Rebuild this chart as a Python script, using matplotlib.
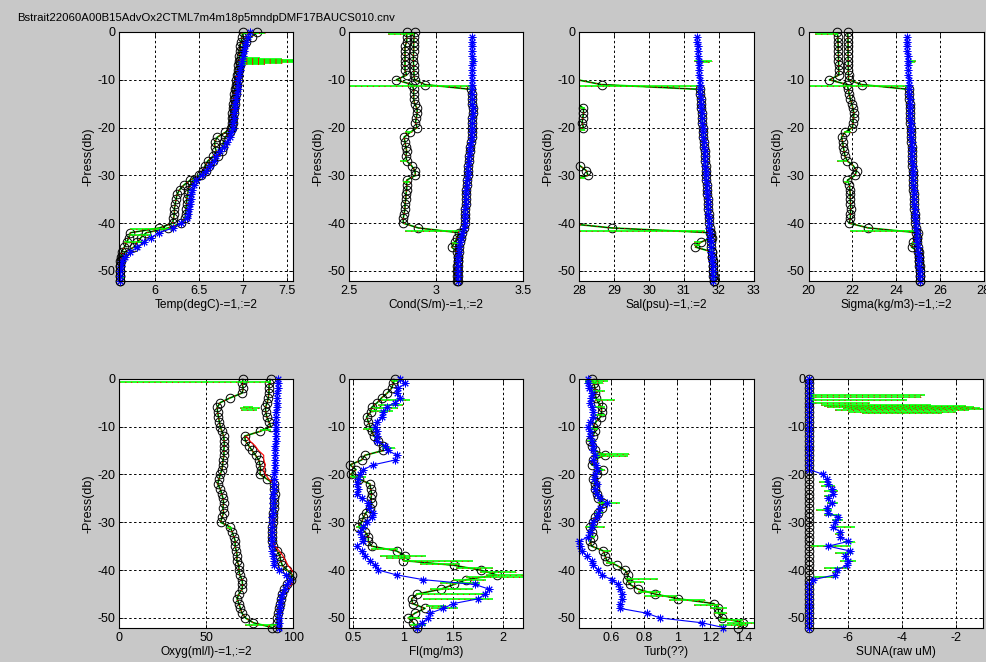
import numpy as np
import matplotlib
matplotlib.use("Agg")
import matplotlib.pyplot as plt

plt.rcParams['font.family'] = ['Liberation Sans', 'DejaVu Sans']
plt.rcParams['axes.unicode_minus'] = False

NAN = float('nan')

TITLE = "Bstrait22060A00B15AdvOx2CTML7m4m18p5mndpDMF17BAUCS010.cnv"
YLABEL = "-Press(db)"

# bin pressures (db)
PRESS = [0, 1, 2, 3, 4, 5, 6, 7, 8, 9,
         10, 11, 12, 13, 14, 15, 16, 17, 18, 19,
         20, 21, 22, 23, 24, 25, 26, 27, 28, 29,
         30, 31, 32, 33, 34, 35, 36, 37, 38, 39,
         40, 41, 42, 43, 44, 45, 46, 47, 48, 49,
         50, 51, 52]

# ---------------- temperature ----------------
TEMP_A = [7.00, 6.99, 6.98, 6.97, 6.97, 6.96, 6.96, 6.95, 6.94, 6.93,
          6.92, 6.92, 6.91, 6.90, 6.90, 6.89, 6.89, 6.88, 6.88, 6.88,
          6.87, 6.80, 6.71, 6.68, 6.68, 6.70, 6.66, 6.60, 6.57, 6.55,
          6.50, 6.40, 6.33, 6.28, 6.25, 6.24, 6.23, 6.22, 6.22, 6.21,
          6.20, 6.05, 5.72, 5.70, 5.68, 5.65, 5.62, 5.61, 5.60, 5.60,
          5.60, 5.60, 5.60]
TEMP_B = [7.16, 7.10, 7.04, 7.00, 6.99, 6.98, 6.97, 6.97, 6.96, 6.95,
          6.94, 6.93, 6.92, 6.92, 6.91, 6.91, 6.90, 6.90, 6.89, 6.89,
          6.88, 6.85, 6.80, 6.78, 6.77, 6.76, 6.72, 6.66, 6.62, 6.58,
          6.52, 6.44, 6.40, 6.38, 6.37, 6.36, 6.36, 6.35, 6.35, 6.34,
          6.30, 6.15, 5.90, 5.84, 5.80, 5.76, 5.66, 5.62, 5.61, 5.60,
          5.60, 5.60, 5.60]
TEMP_UP = [7.08, 7.06, 7.04, 7.02, 7.01, 7.00, 6.99, 6.98, 6.97, 6.96,
           6.95, 6.95, 6.94, 6.93, 6.92, 6.91, 6.91, 6.90, 6.90, 6.89,
           6.89, 6.87, 6.85, 6.82, 6.78, 6.74, 6.70, 6.67, 6.63, 6.58,
           6.53, 6.47, 6.44, 6.42, 6.41, 6.41, 6.40, 6.39, 6.38, 6.36,
           6.30, 6.20, 6.05, 5.95, 5.88, 5.80, 5.72, 5.66, 5.62, 5.61,
           5.60, 5.60, 5.60]
TEMP_SPK_P = [0.3, 5.5, 5.7, 5.9, 6.1, 6.3, 6.5, 6.7, 41.3, 42.5, 44.0, 51.5]
TEMP_SPK_LO = [6.98, 6.97, 6.97, 6.97, 6.97, 6.97, 6.97, 6.97, 5.72, 5.70, 5.65, 5.60]
TEMP_SPK_HI = [7.25, 7.20, 7.45, 7.58, 7.58, 7.58, 7.45, 7.25, 6.20, 5.95, 5.85, 5.65]

# ---------------- conductivity ----------------
COND_A = [2.83, 2.83, 2.83, 2.82, 2.82, 2.82, 2.82, 2.82, 2.82, 2.83,
          2.77, 2.86, 2.87, 2.87, 2.87, 2.875, 2.89, 2.89, 2.885, 2.88,
          2.89, 2.85, 2.815, 2.82, 2.825, 2.83, 2.825, 2.83, 2.858, 2.877,
          2.88, 2.83, 2.83, 2.83, 2.825, 2.825, 2.82, 2.82, 2.815, 2.81,
          2.81, 2.897, 3.13, 3.12, 3.107, 3.088, 3.12, 3.122, 3.122, 3.121,
          3.12, 3.12, 3.12]
COND_B = [2.875, 2.872, 2.87, 2.87, 2.87, 2.868, 2.868, 2.87, 2.87, 2.872,
          2.875, 2.935, 3.20, 3.205, 3.207, 3.208, 3.209, 3.209, 3.208, 3.207,
          3.206, 3.205, 3.203, 3.20, 3.196, 3.192, 3.19, 3.187, 3.185, 3.182,
          3.18, 3.177, 3.175, 3.172, 3.17, 3.17, 3.168, 3.167, 3.166, 3.165,
          3.163, 3.16, 3.15, 3.142, 3.136, 3.132, 3.129, 3.127, 3.126, 3.125,
          3.124, 3.123, 3.122]
COND_UP = [NAN, 3.205, 3.205, 3.206, 3.206, 3.205, 3.21, 3.206, 3.205, 3.205,
           3.204, 3.205, 3.205, 3.206, 3.207, 3.208, 3.209, 3.209, 3.208, 3.207,
           3.206, 3.205, 3.203, 3.20, 3.196, 3.192, 3.19, 3.187, 3.185, 3.182,
           3.18, 3.177, 3.175, 3.172, 3.17, 3.17, 3.168, 3.167, 3.166, 3.165,
           3.163, 3.158, 3.15, 3.142, 3.136, 3.132, 3.129, 3.127, 3.126, 3.125,
           3.124, 3.123, 3.122]
COND_SPK_P = [0.4, 6.0, 6.3, 11.2, 21.0, 27.0, 31.3, 41.6, 44.2]
COND_SPK_LO = [2.72, 3.20, 3.20, 2.50, 2.82, 2.79, 2.81, 2.82, 3.09]
COND_SPK_HI = [2.87, 3.23, 3.22, 3.20, 2.86, 2.83, 2.85, 3.14, 3.14]

# ---------------- salinity ----------------
SAL_A = [27.5, 27.5, 27.5, 27.45, 27.45, 27.45, 27.45, 27.45, 27.45, 27.5,
         27.0, 27.8, 27.9, 27.9, 27.9, 27.95, 28.12, 28.12, 28.10, 28.08,
         28.12, 27.8, 27.55, 27.55, 27.6, 27.65, 27.6, 27.7, 28.02, 28.2,
         28.25, 27.7, 27.7, 27.7, 27.7, 27.7, 27.7, 27.7, 27.65, 27.6,
         27.6, 28.93, 31.78, 31.8, 31.48, 31.33, 31.8, 31.81, 31.82, 31.83,
         31.84, 31.84, 31.85]
SAL_B = [27.9, 27.9, 27.9, 27.9, 27.9, 27.9, 27.9, 27.9, 27.9, 27.9,
         27.95, 28.64, 31.46, 31.47, 31.48, 31.49, 31.50, 31.51, 31.52, 31.53,
         31.54, 31.55, 31.56, 31.57, 31.58, 31.59, 31.60, 31.61, 31.62, 31.62,
         31.63, 31.64, 31.65, 31.66, 31.67, 31.68, 31.69, 31.70, 31.71, 31.72,
         31.73, 31.74, 31.76, 31.77, 31.78, 31.79, 31.80, 31.81, 31.82, 31.83,
         31.84, 31.85, 31.85]
SAL_UP = [NAN, 31.37, 31.38, 31.39, 31.40, 31.41, 31.42, 31.42, 31.43, 31.44,
          31.45, 31.45, 31.46, 31.47, 31.48, 31.49, 31.50, 31.51, 31.52, 31.53,
          31.54, 31.55, 31.56, 31.57, 31.58, 31.59, 31.60, 31.60, 31.61, 31.62,
          31.63, 31.64, 31.65, 31.66, 31.67, 31.68, 31.69, 31.70, 31.70, 31.71,
          31.72, 31.73, 31.75, 31.76, 31.77, 31.78, 31.79, 31.80, 31.81, 31.82,
          31.82, 31.83, 31.84]
SAL_SPK_P = [6.0, 6.3, 11.2, 15.8, 20.5, 30.5, 41.6, 44.0, 44.6]
SAL_SPK_LO = [31.30, 31.35, 27.00, 28.00, 28.00, 28.00, 27.50, 31.30, 31.30]
SAL_SPK_HI = [31.80, 31.75, 31.45, 28.15, 28.15, 28.15, 31.60, 31.50, 31.45]

# ---------------- sigma-t ----------------
SIGMA_A = [21.31, 21.33, 21.34, 21.35, 21.35, 21.36, 21.36, 21.37, 21.37, 21.38,
           20.95, 21.75, 21.81, 21.85, 21.90, 21.97, 22.02, 22.07, 22.05, 22.02,
           22.00, 21.66, 21.50, 21.55, 21.58, 21.62, 21.66, 21.77, 22.04, 22.19,
           22.12, 21.77, 21.86, 21.88, 21.90, 21.90, 21.91, 21.92, 21.91, 21.90,
           21.85, 22.73, 25.00, 24.97, 24.76, 24.70, 25.03, 25.05, 25.06, 25.07,
           25.08, 25.09, 25.09]
SIGMA_B = [21.78, 21.79, 21.80, 21.80, 21.80, 21.80, 21.81, 21.81, 21.81, 21.82,
           21.82, 22.42, 24.58, 24.59, 24.60, 24.61, 24.62, 24.63, 24.64, 24.65,
           24.66, 24.67, 24.68, 24.69, 24.70, 24.71, 24.72, 24.73, 24.74, 24.75,
           24.76, 24.77, 24.78, 24.79, 24.80, 24.81, 24.82, 24.83, 24.84, 24.86,
           24.88, 24.90, 24.92, 24.94, 24.96, 24.98, 25.00, 25.02, 25.04, 25.06,
           25.07, 25.08, 25.09]
SIGMA_UP = [NAN, 24.48, 24.49, 24.50, 24.51, 24.52, 24.53, 24.54, 24.55, 24.56,
            24.57, 24.58, 24.59, 24.60, 24.61, 24.62, 24.63, 24.64, 24.65, 24.66,
            24.67, 24.68, 24.69, 24.70, 24.71, 24.72, 24.73, 24.74, 24.75, 24.76,
            24.77, 24.78, 24.79, 24.80, 24.81, 24.82, 24.83, 24.84, 24.85, 24.87,
            24.89, 24.91, 24.93, 24.95, 24.97, 24.99, 25.01, 25.03, 25.05, 25.06,
            25.07, 25.08, 25.09]
SIGMA_SPK_P = [0.4, 6.0, 6.3, 11.2, 21.0, 27.0, 31.3, 41.6, 44.2]
SIGMA_SPK_LO = [20.30, 24.55, 24.60, 20.00, 21.60, 21.30, 21.60, 21.90, 24.70]
SIGMA_SPK_HI = [21.35, 24.90, 24.85, 24.55, 21.95, 21.75, 21.85, 25.00, 24.95]

# ---------------- oxygen ----------------
OXY_A = [71.2, 70.6, 71.2, 70.6, 63.8, 58.0, 56.2, 56.5, 57.0, 57.5,
         58.0, 59.0, 60.0, 60.2, 60.4, 60.0, 60.2, 59.6, 59.4, 59.0,
         58.0, 57.3, 56.5, 58.0, 58.8, 59.6, 60.0, 59.5, 60.0, 59.0,
         58.2, 63.8, 64.8, 65.8, 66.7, 66.5, 67.3, 67.7, 67.5, 68.7,
         68.7, 69.2, 70.6, 70.8, 70.6, 68.7, 67.7, 68.7, 69.6, 70.5,
         72.5, 77.0, 88.0]
OXY_B = [87.0, 86.2, 86.0, 86.0, 85.6, 85.0, 84.0, 84.2, 84.8, 86.0,
         87.0, 81.0, 72.0, 72.5, 74.4, 76.3, 78.3, 80.2, 80.8, 81.2,
         80.8, 85.0, 88.8, 89.0, 89.2, 89.0, 89.0, 88.8, 88.6, 88.5,
         88.4, 88.0, 87.8, 87.8, 88.0, 88.5, 90.8, 92.3, 92.7, 93.7,
         96.5, 99.4, 98.5, 96.5, 94.6, 93.7, 92.7, 92.2, 91.7, 91.2,
         90.8, 90.8, 90.8]
OXY_UP = [91.0, 91.2, 91.0, 90.8, 90.6, 90.4, 90.4, 90.2, 90.2, 90.0,
          90.0, 90.0, 89.8, 89.8, 89.6, 89.6, 89.4, 89.4, 89.2, 89.2,
          89.0, 89.0, 88.8, 88.8, 88.6, 88.6, 88.4, 88.4, 88.2, 88.0,
          87.8, 87.8, 87.8, 87.6, 87.6, 87.8, 88.0, 88.4, 88.8, 89.0,
          91.5, 96.0, 98.0, 96.5, 95.0, 93.7, 93.0, 92.5, 92.2, 92.0,
          91.7, 91.7, 91.7]
OXY_SPK_P = [0.7, 6.0, 6.2, 6.5, 10.8, 31.3, 51.5]
OXY_SPK_LO = [0.0, 71.0, 69.5, 70.0, 81.0, 62.0, 72.0]
OXY_SPK_HI = [87.0, 77.0, 81.0, 79.0, 87.0, 65.0, 90.5]
OXY_RED_P = [12, 13, 14, 15, 16, 17, 18, 19, 20, 21, 22,
             34, 35, 36, 37, 38, 39, 40, 41, 42, 43, 44, 45]
OXY_RED_X = [73.0, 75.0, 78.0, 80.0, 83.0, 83.0, 84.0, 83.0, 84.0, 86.0, 89.0,
             88.0, 89.5, 92.0, 94.0, 95.5, 97.0, 99.0, 101.0, 100.5, 99.0, 96.0, 94.0]

# ---------------- fluorescence ----------------
FL_A = [0.917, 0.900, 0.883, 0.840, 0.783, 0.740, 0.683, 0.673, 0.633, 0.650,
        0.667, 0.683, 0.707, 0.750, 0.800, 0.800, 0.617, 0.583, 0.467, 0.527,
        0.473, 0.560, 0.667, 0.673, 0.683, 0.677, 0.683, 0.667, 0.627, 0.600,
        0.583, 0.550, 0.617, 0.650, 0.650, 0.683, 0.933, 1.017, 1.000, 1.507,
        1.773, 1.933, 1.627, 1.507, 1.373, 1.140, 1.083, 1.093, 1.217, 1.117,
        1.050, 1.100, 1.140]
FL_UP = [0.967, 1.017, 0.950, 0.933, 0.967, 0.917, 0.833, 0.800, 0.783, 0.740,
         0.717, 0.733, 0.740, 0.733, 0.817, 0.850, 0.933, 0.917, 0.700, 0.600,
         0.567, 0.550, 0.533, 0.550, 0.533, 0.583, 0.650, 0.660, 0.700, 0.683,
         0.633, 0.600, 0.567, 0.583, 0.600, 0.533, 0.583, 0.617, 0.667, 0.717,
         0.750, 0.933, 1.200, 1.717, 1.860, 1.817, 1.750, 1.500, 1.400, 1.267,
         1.250, 1.183, 1.133]
FL_SPK_P = [0.5, 4.5, 5.5, 6.2, 6.8, 10.5, 14.5, 20.5, 31.0, 35.5,
            37.0, 37.5, 38.2, 38.8, 39.5, 40.3, 41.0, 41.5, 42.0, 42.8,
            44.0, 45.0, 46.0, 47.5, 48.0, 50.0, 51.5]
FL_SPK_LO = [0.88, 0.78, 0.75, 0.70, 0.68, 0.60, 0.80, 0.47, 0.53, 0.68,
             0.77, 0.83, 1.00, 1.17, 1.53, 1.77, 1.83, 1.63, 1.50, 1.37,
             1.27, 1.13, 1.20, 1.23, 1.28, 1.05, 1.07]
FL_SPK_HI = [0.97, 1.07, 1.00, 0.95, 0.90, 0.72, 0.92, 0.63, 0.63, 0.95,
             1.23, 1.07, 1.70, 1.57, 1.90, 2.13, 2.30, 2.20, 1.83, 1.77,
             1.70, 1.83, 1.90, 1.43, 1.55, 1.17, 1.23]

# ---------------- turbidity ----------------
TURB_A = [0.481, 0.495, 0.501, 0.501, 0.507, 0.521, 0.541, 0.541, 0.535, 0.507,
          0.491, 0.501, 0.487, 0.471, 0.481, 0.501, 0.562, 0.491, 0.481, 0.547,
          0.511, 0.491, 0.501, 0.501, 0.511, 0.521, 0.552, 0.541, 0.521, 0.501,
          0.487, 0.471, 0.481, 0.487, 0.471, 0.481, 0.552, 0.562, 0.572, 0.632,
          0.683, 0.703, 0.693, 0.713, 0.764, 0.865, 1.006, 1.222, 1.249, 1.249,
          1.269, 1.400, 1.370]
TURB_UP = [0.461, 0.461, 0.467, 0.481, 0.475, 0.471, 0.481, 0.491, 0.487, 0.471,
           0.461, 0.471, 0.471, 0.481, 0.487, 0.491, 0.501, 0.491, 0.507, 0.511,
           0.501, 0.495, 0.511, 0.501, 0.511, 0.531, 0.572, 0.531, 0.521, 0.511,
           0.491, 0.481, 0.471, 0.461, 0.407, 0.410, 0.420, 0.450, 0.481, 0.491,
           0.521, 0.541, 0.602, 0.642, 0.653, 0.663, 0.663, 0.653, 0.653, 0.814,
           0.895, 1.147, 1.279]
TURB_SPK_P = [0.5, 1.0, 2.5, 4.5, 6.0, 7.5, 10.5, 13.0, 15.8, 16.2,
              19.0, 24.0, 26.0, 28.0, 31.0, 33.0, 36.0, 38.5, 41.8, 42.5,
              44.5, 45.5, 46.2, 47.2, 48.0, 49.0, 50.5, 51.0, 51.5]
TURB_SPK_LO = [0.44, 0.44, 0.47, 0.50, 0.50, 0.49, 0.46, 0.45, 0.49, 0.50,
               0.52, 0.50, 0.52, 0.50, 0.44, 0.47, 0.55, 0.57, 0.69, 0.70,
               0.76, 0.80, 0.95, 1.10, 1.20, 1.22, 1.25, 1.30, 1.25]
TURB_SPK_HI = [0.58, 0.55, 0.56, 0.62, 0.56, 0.56, 0.52, 0.50, 0.71, 0.70,
               0.56, 0.53, 0.65, 0.55, 0.56, 0.50, 0.60, 0.62, 0.885, 0.80,
               0.90, 1.00, 1.17, 1.25, 1.30, 1.30, 1.40, 1.47, 1.42]

# ---------------- SUNA nitrate ----------------
SUNA_A = [-7.45, -7.45, -7.45, -7.45, -7.45, -7.45, -7.45, -7.45, -7.45, -7.45,
          -7.45, -7.45, -7.45, -7.45, -7.45, -7.45, -7.45, -7.45, -7.45, -7.45,
          -7.45, -7.45, -7.45, -7.45, -7.45, -7.45, -7.45, -7.45, -7.45, -7.45,
          -7.45, -7.45, -7.45, -7.45, -7.45, -7.45, -7.45, -7.45, -7.45, -7.45,
          -7.45, -7.45, -7.45, -7.45, -7.45, -7.45, -7.45, -7.45, -7.45, -7.45,
          -7.45, -7.45, -7.45]
SUNA_UP = [-7.45, -7.45, -7.45, -7.45, -7.45, -7.45, -7.45, -7.45, -7.45, -7.45,
           -7.45, -7.45, -7.45, -7.45, -7.45, -7.45, -7.45, -7.45, -7.45, -7.45,
           -6.93, -6.81, -6.75, -6.62, -6.56, -6.75, -6.62, -6.81, -6.75, -6.37,
           -6.50, -6.56, -6.31, -6.31, -6.00, -6.75, -5.94, -6.12, -6.00, -6.06,
           -6.43, -6.50, -7.30, -7.45, -7.45, -7.45, -7.45, -7.45, -7.45, -7.45,
           -7.45, -7.45, -7.45]
SUNA_SPK_P = [3.5, 3.8, 4.5, 5.0, 5.5, 5.8, 6.0, 6.2, 6.4, 6.6, 6.9, 7.2,
              21.5, 22.5, 23.5, 24.5, 26.0, 27.5, 28.5, 29.5, 31.0, 32.5,
              34.2, 35.0, 36.5, 38.0, 39.5, 40.5, 41.5]
SUNA_SPK_LO = [-7.45, -7.45, -7.45, -7.45, -7.00, -6.90, -6.80, -6.20, -5.90, -6.50, -6.00, -5.50,
               -7.10, -7.00, -6.90, -6.90, -6.80, -7.20, -6.90, -6.60, -6.60, -6.50,
               -6.20, -7.40, -6.50, -6.30, -6.90, -6.60, -7.30]
SUNA_SPK_HI = [-3.15, -3.30, -3.80, -5.20, -2.90, -1.60, -1.30, -1.10, -0.97, -1.50, -2.00, -2.50,
               -6.70, -6.50, -6.40, -6.60, -6.40, -6.60, -6.30, -6.20, -5.75, -6.20,
               -5.75, -5.90, -5.85, -5.70, -6.00, -6.30, -6.50]

W, H = 987, 662
fig = plt.figure(figsize=(W / 100, H / 100), dpi=100, facecolor='#c8c8c8')

# axes boxes in pixels: left, right, top, bottom
BOXES = [(119.3, 293.3, 32, 281), (349.3, 523.3, 32, 281),
         (579.3, 753.7, 32, 281), (808.7, 983.7, 32, 281),
         (119.3, 293.3, 378.7, 628), (349.3, 523.3, 378.7, 628),
         (579.3, 753.7, 378.7, 628), (809.3, 983.3, 378.7, 628)]

PANELS = [
    dict(a=TEMP_A, b=TEMP_B, up=TEMP_UP, sp=(TEMP_SPK_P, TEMP_SPK_LO, TEMP_SPK_HI),
         xlim=(5.593, 7.575), ticks=[6, 6.5, 7, 7.5], labels=['6', '6.5', '7', '7.5'],
         xlabel='Temp(degC)-=1,:=2'),
    dict(a=COND_A, b=COND_B, up=COND_UP, sp=(COND_SPK_P, COND_SPK_LO, COND_SPK_HI),
         xlim=(2.5, 3.5), ticks=[2.5, 3, 3.5], labels=['2.5', '3', '3.5'],
         xlabel='Cond(S/m)-=1,:=2'),
    dict(a=SAL_A, b=SAL_B, up=SAL_UP, sp=(SAL_SPK_P, SAL_SPK_LO, SAL_SPK_HI),
         xlim=(28, 33), ticks=[28, 29, 30, 31, 32, 33],
         labels=['28', '29', '30', '31', '32', '33'], xlabel='Sal(psu)-=1,:=2'),
    dict(a=SIGMA_A, b=SIGMA_B, up=SIGMA_UP, sp=(SIGMA_SPK_P, SIGMA_SPK_LO, SIGMA_SPK_HI),
         xlim=(20, 28), ticks=[20, 22, 24, 26, 28], labels=['20', '22', '24', '26', '28'],
         xlabel='Sigma(kg/m3)-=1,:=2'),
    dict(a=OXY_A, b=OXY_B, up=OXY_UP, sp=(OXY_SPK_P, OXY_SPK_LO, OXY_SPK_HI),
         red=(OXY_RED_P, OXY_RED_X),
         xlim=(0, 100), ticks=[0, 50, 100], labels=['0', '50', '100'],
         xlabel='Oxyg(ml/l)-=1,:=2'),
    dict(a=FL_A, b=None, up=FL_UP, sp=(FL_SPK_P, FL_SPK_LO, FL_SPK_HI),
         xlim=(0.46, 2.2), ticks=[0.5, 1, 1.5, 2], labels=['0.5', '1', '1.5', '2'],
         xlabel='Fl(mg/m3)'),
    dict(a=TURB_A, b=None, up=TURB_UP, sp=(TURB_SPK_P, TURB_SPK_LO, TURB_SPK_HI),
         xlim=(0.406, 1.463), ticks=[0.6, 0.8, 1, 1.2, 1.4],
         labels=['0.6', '0.8', '1', '1.2', '1.4'], xlabel='Turb(??)'),
    dict(a=SUNA_A, b=None, up=SUNA_UP, sp=(SUNA_SPK_P, SUNA_SPK_LO, SUNA_SPK_HI),
         xlim=(-7.453, -0.969), ticks=[-6, -4, -2], labels=['-6', '-4', '-2'],
         xlabel='SUNA(raw uM)'),
]

GREEN = (0, 1, 0)
RED = (1, 0, 0)
BLUE = (0, 0, 1)
ASTERISK = (8, 2, 0)   # MATLAB-style '*' marker
depth = -np.asarray(PRESS, float)


def marks(ax, x, xlim, **kw):
    """Markers for points inside the x range, drawn unclipped like MATLAB."""
    x = np.asarray(x, float)
    ok = np.isfinite(x) & (x >= xlim[0] - 1e-9) & (x <= xlim[1] + 1e-9)
    ax.plot(x[ok], depth[ok], linestyle='none', clip_on=False, **kw)


for box, pn in zip(BOXES, PANELS):
    l, r, t, b = box
    ax = fig.add_axes([l / W, 1 - b / H, (r - l) / W, (b - t) / H])
    ax.set_facecolor('white')
    xlim = pn['xlim']
    profiles = [pn['a']] + ([pn['b']] if pn['b'] is not None else [])

    # raw sensor traces under the bin averages
    for prof in profiles:
        ax.plot(prof, depth, color=GREEN, lw=1.3, zorder=2)
    sp_p, sp_lo, sp_hi = pn['sp']
    sp_y = -np.asarray(sp_p, float)
    ax.hlines(sp_y, sp_lo, sp_hi, colors=[GREEN], lw=1.2, zorder=3.4)
    ax.hlines(sp_y, sp_lo, sp_hi, colors=[RED], lw=0.7, linestyles=(0, (1, 5)), zorder=3.5)
    if 'red' in pn:
        rp, rx = pn['red']
        ax.plot(rx, -np.asarray(rp, float), color=RED, lw=0.8, zorder=3.3)

    # bin-averaged profiles: black line with open circles
    for prof in profiles:
        ax.plot(prof, depth, color='k', lw=0.6, zorder=3)
        ax.plot(prof, depth, color=RED, lw=0.8, linestyle=(0, (1, 4)), zorder=3.2)
        marks(ax, prof, xlim, marker='o', ms=6.2, mfc='none', mec='k', mew=0.7, zorder=3.1)

    # upcast: blue line with asterisks
    ax.plot(pn['up'], depth, color=BLUE, lw=0.8, zorder=4)
    marks(ax, pn['up'], xlim, marker=ASTERISK, ms=5.5, color=BLUE, mew=0.7, zorder=4.1)

    ax.set_xlim(*xlim)
    ax.set_ylim(-52.1, 0)
    ax.set_xticks(pn['ticks'])
    ax.set_xticklabels(pn['labels'])
    ax.set_yticks([0, -10, -20, -30, -40, -50])
    ax.set_yticklabels(['0', '-10', '-20', '-30', '-40', '-50'])
    ax.tick_params(direction='in', length=3, width=0.6, top=True, right=True,
                   labelsize=9, pad=3, colors='k')
    ax.grid(True, color='k', linestyle=(0, (2.5, 2.5)), linewidth=0.7)
    ax.set_axisbelow(True)
    for s in ax.spines.values():
        s.set_color('k')
        s.set_linewidth(0.8)
        s.set_zorder(5)
    ax.set_xlabel(pn['xlabel'], fontsize=8.6, labelpad=1)
    ax.set_ylabel(YLABEL, fontsize=9, labelpad=2)

fig.text(17 / W, 1 - 18 / H, TITLE, ha='left', va='center', fontsize=8.2)

fig.savefig('out.png', dpi=100, facecolor=fig.get_facecolor())
